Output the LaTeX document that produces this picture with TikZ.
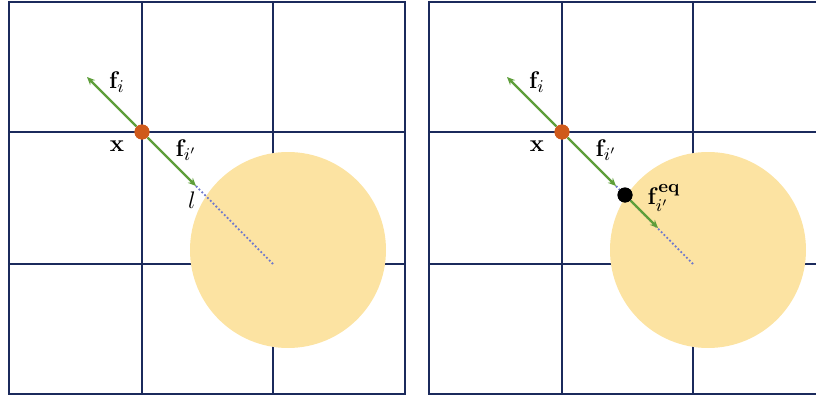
\documentclass[tikz,border=0pt]{standalone}
\usetikzlibrary{arrows.meta}
\definecolor{gridc}{HTML}{1B2A5C}
\definecolor{sunc}{HTML}{FCE3A2}
\definecolor{greenc}{HTML}{5E9E3A}
\definecolor{orangec}{HTML}{CF5A1C}
\definecolor{dotc}{HTML}{6F78CC}
\tikzset{
  gridline/.style={draw=gridc, line width=1.3pt},
  vec/.style={draw=greenc, line width=1.1pt, -{Stealth[length=4pt,width=3.5pt]}},
  dotline/.style={draw=dotc, line width=0.9pt, dash pattern=on 0.9pt off 1.1pt},
  xdot/.style={circle, fill=orangec, inner sep=0pt, minimum size=7.5pt},
  bdot/.style={circle, fill=black, inner sep=0pt, minimum size=7.5pt},
  lab/.style={inner sep=0pt, font=\fontsize{13}{15}\selectfont},
}
\begin{document}
\begin{tikzpicture}[x=0.5pt,y=-0.5pt]
\useasboundingbox (0,0) rectangle (816,396);
% ---------- left panel ----------
\foreach \v in {142,273} \draw[gridline] (\v,2) -- (\v,394);
\foreach \h in {132,264} \draw[gridline] (9,\h) -- (405,\h);
\fill[sunc] (288,250) circle (98);
\draw[gridline] (9,2) rectangle (405,394);
\coordinate (ctrL) at (273,264);
\coordinate (fiL) at (87,77);
\coordinate (fipL) at (196,186);
\node[xdot] (xL) at (142,132) {};
\draw[dotline] (fipL) -- (ctrL);
\draw[vec] (xL) -- (fiL);
\draw[vec] (xL) -- (fipL);
\node[xdot] at (142,132) {};
\node[lab] (lfiL) at (117,82) {$\mathbf{f}_i$};
\node[lab] (lxL) at (117,146) {$\mathbf{x}$};
\node[lab] (lfipL) at (186,150) {$\mathbf{f}_{i'}$};
\node[lab] (llL) at (192,200) {$l$};
% ---------- right panel ----------
\begin{scope}[xshift=210pt]
\foreach \v in {142,273} \draw[gridline] (\v,2) -- (\v,394);
\foreach \h in {132,264} \draw[gridline] (9,\h) -- (405,\h);
\fill[sunc] (288,250) circle (98);
\draw[gridline] (9,2) rectangle (405,394);
\coordinate (ctrR) at (273,264);
\coordinate (fiR) at (87,77);
\coordinate (fipR) at (196,186);
\coordinate (feqR) at (238,228);
\node[xdot] (xR) at (142,132) {};
\node[bdot] (eqR) at (205,195) {};
\draw[dotline] (fipR) -- (ctrR);
\draw[vec] (xR) -- (fiR);
\draw[vec] (xR) -- (fipR);
\draw[vec] (eqR) -- (feqR);
\node[xdot] at (142,132) {};
\node[bdot] at (205,195) {};
\node[lab] (lfiR) at (117,82) {$\mathbf{f}_i$};
\node[lab] (lxR) at (117,146) {$\mathbf{x}$};
\node[lab] (lfipR) at (186,150) {$\mathbf{f}_{i'}$};
\node[lab] (lfeqR) at (244,198) {$\mathbf{f}_{i'}^{\mathbf{eq}}$};
\end{scope}
\end{tikzpicture}
\end{document}
